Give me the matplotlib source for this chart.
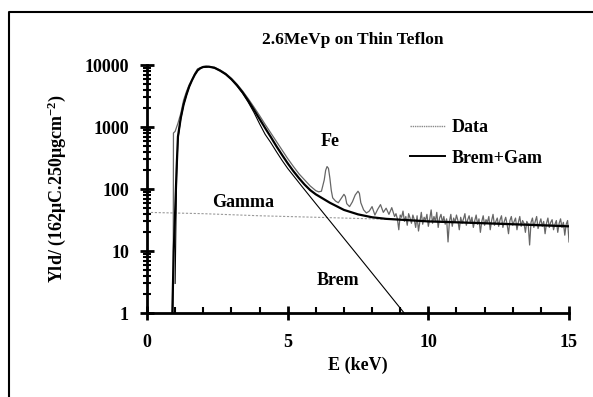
import numpy as np
import matplotlib
matplotlib.use("Agg")
import matplotlib.pyplot as plt
from matplotlib.lines import Line2D

plt.rcParams['font.family'] = ['Liberation Serif', 'DejaVu Serif']
plt.rcParams['font.weight'] = 'bold'
plt.rcParams['axes.labelweight'] = 'bold'
plt.rcParams['mathtext.fontset'] = 'custom'
plt.rcParams['mathtext.rm'] = 'Liberation Serif:bold'
plt.rcParams['mathtext.it'] = 'Liberation Serif:bold'
plt.rcParams['mathtext.bf'] = 'Liberation Serif:bold'

# measured spectrum, smooth part (keV, yield)
data_e = [0.93, 0.94, 1.0, 1.1, 1.2, 1.3, 1.4, 1.5, 1.6, 1.7, 1.8, 1.9, 2.0, 2.1, 2.2, 2.4,
          2.6, 2.8, 3.0, 3.2, 3.4, 3.6, 3.8, 4.0, 4.2, 4.4, 4.6, 4.8, 5.0, 5.2, 5.4, 5.6,
          5.8, 6.0, 6.1, 6.2, 6.3, 6.35, 6.4, 6.45, 6.5, 6.55, 6.6, 6.7, 6.8, 6.9, 7.0,
          7.05, 7.1, 7.2, 7.3, 7.4, 7.5, 7.55, 7.6, 7.7, 7.8, 7.9, 8.0, 8.1, 8.2, 8.3,
          8.4, 8.5, 8.6, 8.7, 8.8]
data_y = [1, 800, 850, 1150, 1650, 2700, 3700, 4800, 5800, 7300, 8700, 9000, 9400, 9600, 9400, 9200,
          8300, 7300, 6100, 4900, 3800, 2850, 2100, 1530, 1100, 800, 580, 420, 310, 232, 176, 140,
          112, 94, 90, 92, 140, 200, 230, 215, 150, 95, 72, 64, 60, 70, 82,
          76, 58, 52, 62, 80, 92, 85, 60, 46, 41, 44, 52, 38, 47, 56,
          42, 49, 39, 50, 36]

# noisy tail of the spectrum, 8.85 .. 15.0 keV in 0.05 keV channels
tail_e = np.linspace(8.85, 15.0, 124)
tail_y = [40, 33, 22, 38, 35, 44, 30, 36, 26, 40, 34, 28, 38, 32,
          24, 37, 21, 30, 42, 27, 35, 31, 39, 25, 33, 46, 28, 36, 30, 42, 24, 34, 39, 29,
          36, 27, 33, 14, 30, 39, 25, 34, 29, 38, 31, 22, 35, 28, 33, 40, 26, 32, 37, 28,
          35, 24, 31, 38, 27, 33, 20, 30, 37, 26, 32, 29, 36, 22, 31, 39, 26, 30, 34, 25,
          32, 37, 24, 30, 35, 27, 19, 31, 36, 26, 30, 34, 22, 29, 36, 25, 31, 28, 20, 30,
          27, 12.5, 29, 34, 24, 30, 36, 23, 28, 33, 25, 30, 19, 28, 34, 24, 29, 32, 22, 27,
          31, 20, 28, 33, 24, 29, 18, 27, 31, 14]

# Brem + Gamma fit
fit_e = [0.9, 0.95, 1.0, 1.05, 1.1, 1.2, 1.3, 1.4, 1.5, 1.6, 1.7, 1.8, 1.9, 2.0, 2.2, 2.4,
         2.6, 2.8, 3.0, 3.2, 3.4, 3.6, 3.8, 4.0, 4.2, 4.4, 4.6, 4.8, 5.0, 5.2, 5.4, 5.6,
         5.8, 6.0, 6.5, 7.0, 7.5, 8.0, 8.5, 9.0, 9.5, 10, 11, 12, 13, 14, 15]
fit_y = [1, 10, 42, 200, 700, 1400, 2300, 3300, 4500, 5700, 7000, 8200, 8900, 9300, 9400, 9000,
         8100, 7100, 5900, 4700, 3600, 2650, 1900, 1350, 960, 690, 490, 355, 260, 195, 150, 118,
         96, 82, 60, 46, 39, 35, 33, 32, 31, 30, 29, 28, 27, 26, 25]

# Brem component
brem_e = [1.0, 1.05, 1.1, 1.2, 1.3, 1.4, 1.5, 1.6, 1.7, 1.8, 1.9, 2.0, 2.2, 2.4, 2.6, 2.8,
          3.0, 3.2, 3.4, 3.6, 3.8, 4.0, 4.2, 4.4, 4.6, 4.8, 5.0, 5.5, 6.0, 6.5, 7.0,
          7.5, 8.0, 8.5, 9.0, 9.14]
brem_y = [3, 150, 650, 1350, 2250, 3250, 4450, 5650, 6950, 8150, 8850, 9250, 9350, 8950, 8050, 7050,
          5850, 4600, 3500, 2500, 1720, 1130, 760, 560, 400, 290, 215, 111, 58, 30.5, 16,
          8.4, 4.4, 2.3, 1.2, 1.0]

# Gamma component
gam_e = [0, 2, 4, 6, 8, 10, 12, 15]
gam_y = [42, 40, 37, 35, 33, 31, 29, 26]

fig = plt.figure(figsize=(5.93, 3.97), dpi=100)
ax = fig.add_axes([147/593, 1-313/397, (569-147)/593, (313-65)/397])

ax.plot(gam_e, gam_y, color='#9a9a9a', lw=0.8, linestyle=(0, (2, 1.5)))
ax.plot(brem_e, brem_y, color='black', lw=0.8)
ax.plot(list(data_e) + list(tail_e), list(data_y) + list(tail_y), color='#666666', lw=0.9)
ax.plot(fit_e, fit_y, color='black', lw=1.6)

ax.set_yscale('log')
ax.set_ylim(1, 10000)
ax.set_xlim(0, 15)
ax.set_xticks([0, 5, 10, 15])
ax.set_xticks(range(0, 16), minor=True)
ax.set_yticks([1, 10, 100, 1000, 10000])
ax.set_yticklabels(['1', '10', '100', '1000', '10000'])

for s in ['top', 'right']:
    ax.spines[s].set_visible(False)
for s in ['left', 'bottom']:
    ax.spines[s].set_linewidth(2)

ax.tick_params(axis='both', which='major', labelsize=13, width=2, length=10, direction='inout')
ax.tick_params(axis='x', which='major', pad=10)
ax.tick_params(axis='y', which='major', pad=8)
ax.tick_params(axis='x', which='minor', width=1.5, length=4, direction='in')
ax.tick_params(axis='y', which='minor', width=1.5, length=6, direction='inout')

ax.set_xlabel('E (keV)', fontsize=13, labelpad=4)
ax.set_ylabel('Yld/ (162μC.250μgcm$^{-2}$)', fontsize=13, labelpad=12)
fig.text(353/593, 1-40/397, '2.6MeVp on Thin Teflon', fontsize=12.5, ha='center', va='center')

ax.text(6.5, 590, 'Fe', fontsize=13, ha='center', va='center')
ax.text(3.43, 60, 'Gamma', fontsize=13, ha='center', va='center')
ax.text(6.8, 3.4, 'Brem', fontsize=13, ha='center', va='center')

handles = [Line2D([], [], color='#8a8a8a', lw=1, linestyle=(0, (1, 0.6))),
           Line2D([], [], color='black', lw=1.4)]
fig.legend(handles, ['Data', 'Brem+Gam'], loc='upper left', bbox_to_anchor=(410/593, 1-119/397),
           frameon=False, fontsize=13, handlelength=1.95, handletextpad=0.35,
           labelspacing=0.75, borderpad=0, borderaxespad=0)

# outer frame (left and top edges only)
fig.add_artist(Line2D([9/593, 9/593, 1], [0, 1-12/397, 1-12/397], transform=fig.transFigure,
                      color='black', lw=1.5))

fig.savefig('out.png', dpi=100)
